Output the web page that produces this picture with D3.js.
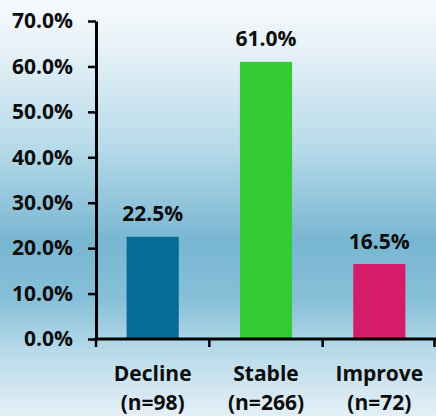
<!DOCTYPE html>
<html>
<head>
<meta charset="utf-8">
<script src="https://cdn.jsdelivr.net/npm/d3@7"></script>
<style>
  html, body { margin: 0; padding: 0; background: #ffffff; }
  svg { display: block; }
  text { font-family: "Open Sans", "DejaVu Sans", sans-serif; font-weight: 700; fill: #0d0d0d; }
</style>
</head>
<body>
<svg id="chart" width="436" height="416"></svg>
<script>
// Share of patients by change in status
const categories = ["Decline", "Stable", "Improve"];
const sampleSizes = ["(n=98)", "(n=266)", "(n=72)"];
const percentages = [22.5, 61.0, 16.5];
const barColors = ["#076b97", "#33cc33", "#d51c69"];
const yTicks = [0, 10, 20, 30, 40, 50, 60, 70];

const W = 436, H = 416;
const margin = { top: 21, right: 0, bottom: 77, left: 96 };
const fontSize = "21px";

const svg = d3.select("#chart");

// Background: pale at the top, deepening to blue above the axis, pale again below
const defs = svg.append("defs");
const grad = defs.append("linearGradient")
  .attr("id", "bg").attr("x1", 0).attr("y1", 0).attr("x2", 0).attr("y2", 1);
[
  [0.00, "#f7fafd"],
  [0.12, "#e6f1f7"],
  [0.35, "#b8dbea"],
  [0.58, "#78b6d1"],
  [0.72, "#86c0d8"],
  [0.84, "#b7d9e9"],
  [1.00, "#e4f0f7"]
].forEach(([o, c]) => grad.append("stop").attr("offset", o).attr("stop-color", c));
svg.append("rect").attr("width", W).attr("height", H).attr("fill", "url(#bg)");

const x = d3.scaleBand()
  .domain(categories)
  .range([margin.left, W - margin.right])
  .padding(0);

const y = d3.scaleLinear()
  .domain([0, 70])
  .range([H - margin.bottom, margin.top]);

const barW = x.bandwidth() * 0.46;
const y0 = y(0);

// Bars
svg.append("g").selectAll("rect")
  .data(percentages)
  .join("rect")
  .attr("x", (d, i) => x(categories[i]) + x.bandwidth() / 2 - barW / 2)
  .attr("y", d => y(d))
  .attr("width", barW)
  .attr("height", d => y0 - y(d))
  .attr("fill", (d, i) => barColors[i]);

// Value labels above bars
svg.append("g").selectAll("text")
  .data(percentages)
  .join("text")
  .attr("x", (d, i) => x(categories[i]) + x.bandwidth() / 2)
  .attr("y", d => y(d) - 15.5)
  .attr("text-anchor", "middle")
  .style("font-size", fontSize)
  .text(d => d.toFixed(1) + "%");

// Y axis
const yAxis = svg.append("g")
  .attr("transform", `translate(${margin.left},0)`)
  .call(d3.axisLeft(y).tickValues(yTicks).tickSize(8).tickSizeOuter(0).tickPadding(15)
    .tickFormat(d => d.toFixed(1) + "%"));
yAxis.select(".domain").attr("stroke", "#000").attr("stroke-width", 3);
yAxis.selectAll(".tick line").attr("stroke", "#000").attr("stroke-width", 2.5);
yAxis.selectAll(".tick text")
  .style("font-family", "'Open Sans', sans-serif")
  .style("font-weight", 700)
  .style("font-size", fontSize)
  .attr("fill", "#0d0d0d");

// X axis line with ticks at category boundaries
const xAxis = svg.append("g");
xAxis.append("line")
  .attr("x1", margin.left - 1.5).attr("x2", W)
  .attr("y1", y0).attr("y2", y0)
  .attr("stroke", "#000").attr("stroke-width", 3);
const boundaries = categories.map(c => x(c)).concat([x(categories[categories.length - 1]) + x.step()]);
xAxis.selectAll("line.tick")
  .data(boundaries)
  .join("line")
  .attr("class", "tick")
  .attr("x1", d => Math.min(d, W - 1.5)).attr("x2", d => Math.min(d, W - 1.5))
  .attr("y1", y0).attr("y2", y0 + 8)
  .attr("stroke", "#000").attr("stroke-width", 2.5);

// Category labels (two lines)
const catG = svg.append("g").selectAll("text")
  .data(categories)
  .join("text")
  .attr("x", d => x(d) + x.bandwidth() / 2)
  .attr("y", y0 + 42)
  .attr("text-anchor", "middle")
  .style("font-size", fontSize);
catG.append("tspan")
  .attr("x", d => x(d) + x.bandwidth() / 2)
  .text(d => d);
catG.append("tspan")
  .attr("x", d => x(d) + x.bandwidth() / 2)
  .attr("dy", 29)
  .text((d, i) => sampleSizes[i]);
</script>
</body>
</html>
